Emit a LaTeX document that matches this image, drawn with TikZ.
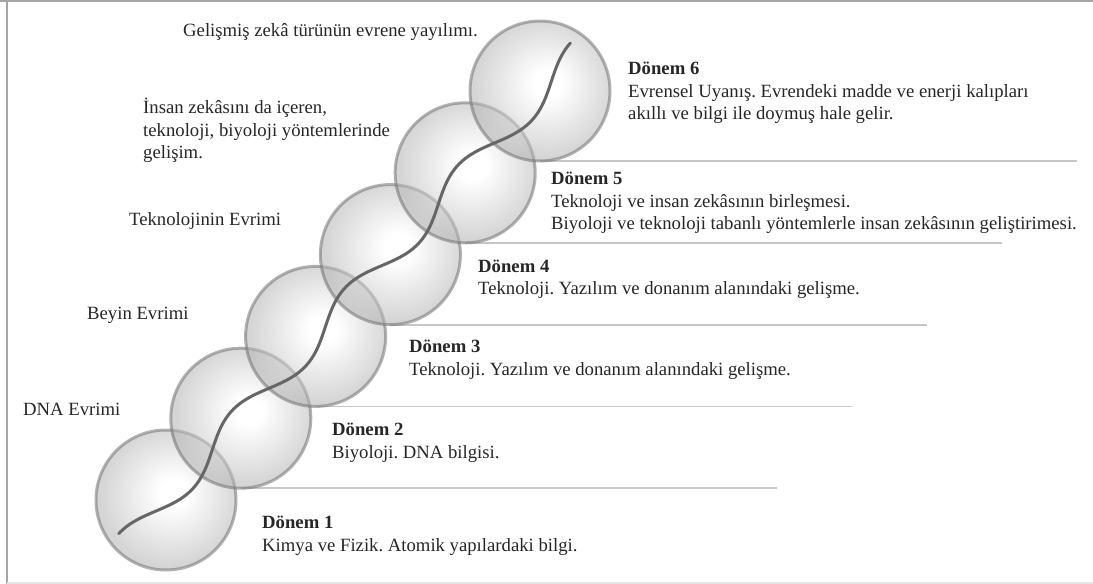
\documentclass[tikz,border=0pt]{standalone}
\usepackage{fontspec}
\setmainfont{Liberation Serif}
\frenchspacing
\pgfdeclareradialshading{ballshade}{\pgfpoint{3bp}{3bp}}{color(0bp)=(white); color(5bp)=(white); color(25bp)=(black!30); color(50bp)=(black!30)}
\begin{document}
\begin{tikzpicture}[x=1bp, y=-1bp,
  ball/.style={circle, minimum size=140bp, inner sep=0pt, outer sep=0pt, shade, shading=ballshade, fill opacity=0.55, draw=black!55, draw opacity=0.55, line width=3bp},
  rule/.style={draw=black!22, line width=1.8bp},
  txt/.style={anchor=base west, inner sep=0pt, align=left, text=black!85, font=\fontsize{18.7bp}{22.5bp}\selectfont\frenchspacing},
  frameline/.style={draw=black!35, line width=2bp},
  wave/.style={draw=black!60, line width=3bp, line cap=round}
]
\useasboundingbox (0,0) rectangle (1093,584);
% frame
\draw[frameline] (7,0) -- (7,584);
\draw[frameline] (0,1) -- (1093,1);
\draw[draw=black!10, line width=1.5bp] (7,583) -- (1093,583);

% rule ends
\coordinate (r2) at (777,488.2);
\coordinate (r3) at (852,406.4);
\coordinate (r4) at (927,324.6);
\coordinate (r5) at (1002,242.8);
\coordinate (r6) at (1077,161);

% circle centres
\path
  (166,500)     coordinate (p1)
  (240.8,418.2) coordinate (p2)
  (315.6,336.4) coordinate (p3)
  (390.4,254.6) coordinate (p4)
  (465.2,172.8) coordinate (p5)
  (540,91)      coordinate (p6);
\path (p2) ++(0,70) coordinate (b2);
\path (p3) ++(0,70) coordinate (b3);
\path (p4) ++(0,70) coordinate (b4);
\path (p5) ++(0,70) coordinate (b5);
\path (p6) ++(0,70) coordinate (b6);
\draw[rule] (b2) -- (r2);
\draw[rule] (b3) -- (r3);
\draw[rule] (b4) -- (r4);
\draw[rule] (b5) -- (r5);
\draw[rule] (b6) -- (r6);

\node[ball] (c1) at (p1) {};
\node[ball] (c2) at (p2) {};
\node[ball] (c3) at (p3) {};
\node[ball] (c4) at (p4) {};
\node[ball] (c5) at (p5) {};
\node[ball] (c6) at (p6) {};

% wave
\draw[wave] plot[domain=0:1, samples=240, smooth]
  ({118+452*\x+(13-12*cos(1440*\x))*0.736}, {533-491*\x+(13-12*cos(1440*\x))*0.677});

% left labels (anchor = baseline of last line)
\node[txt] (l6) at (183,37) {Gelişmiş zekâ türünün evrene yayılımı.};
\node[txt] (l5) at (143,159) {İnsan zekâsını da içeren,\\teknoloji, biyoloji yöntemlerinde\\gelişim.};
\node[txt] (l4) at (129,226) {Teknolojinin Evrimi};
\node[txt] (l3) at (87,320) {Beyin Evrimi};
\node[txt] (l2) at (23,415) {DNA Evrimi};

% right labels (anchor = baseline of last line)
\node[txt] (d6) at (628,120) {\textbf{Dönem 6}\\Evrensel Uyanış. Evrendeki madde ve enerji kalıpları\\akıllı ve bilgi ile doymuş hale gelir.};
\node[txt] (d5) at (551,230) {\textbf{Dönem 5}\\Teknoloji ve insan zekâsının birleşmesi.\\Biyoloji ve teknoloji tabanlı yöntemlerle insan zekâsının geliştirimesi.};
\node[txt] (d4) at (478,295) {\textbf{Dönem 4}\\Teknoloji. Yazılım ve donanım alanındaki gelişme.};
\node[txt] (d3) at (409,375) {\textbf{Dönem 3}\\Teknoloji. Yazılım ve donanım alanındaki gelişme.};
\node[txt] (d2) at (332,458) {\textbf{Dönem 2}\\Biyoloji. DNA bilgisi.};
\node[txt] (d1) at (262,551) {\textbf{Dönem 1}\\Kimya ve Fizik. Atomik yapılardaki bilgi.};
\end{tikzpicture}
\end{document}
